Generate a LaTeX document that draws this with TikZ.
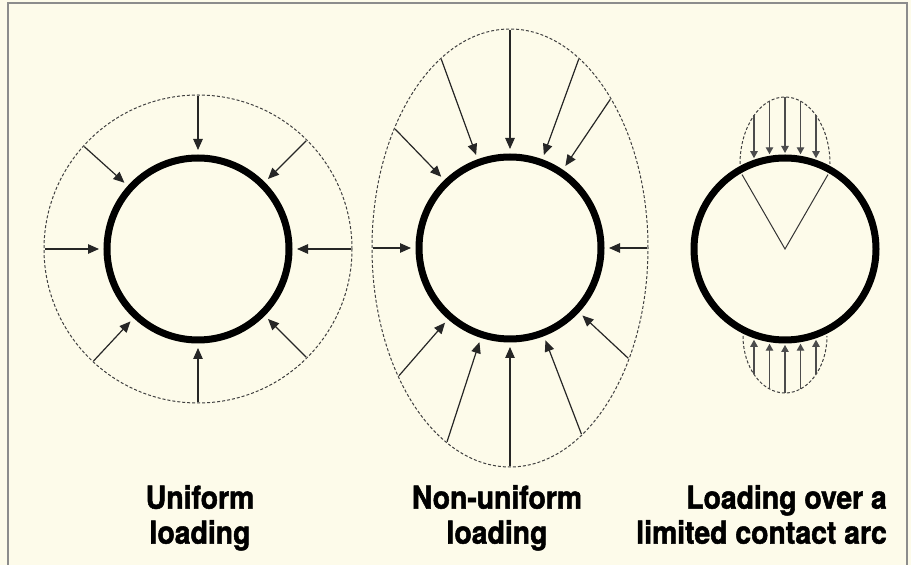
\documentclass[tikz,border=0pt]{standalone}
\usepackage{fontspec}
\newfontfamily\lblfont[FakeStretch=0.9, FakeBold=1.6]{TeX Gyre Heros}
\usetikzlibrary{arrows.meta}
\definecolor{paper}{HTML}{FDFBEA}
\definecolor{rim}{HTML}{8C8C8C}

\begin{document}
\begin{tikzpicture}[x=1pt, y=1pt, >={Triangle[length=11pt,width=9.5pt]},
    pipe/.style={line width=7pt},
    load/.style={line width=1.2pt, draw=black!85, ->},
    smallload/.style={line width=1.1pt, draw=black!70, -{Triangle[length=7pt,width=7.5pt]}},
    envelope/.style={line width=1pt, dash pattern=on 3pt off 2pt, draw=black!75},
    caption/.style={font=\lblfont\bfseries\fontsize{31.5}{35}\selectfont,
                    inner sep=0pt}]
  \fill[paper] (0,0) rectangle (911,565);
  \useasboundingbox (0,0) rectangle (911,565);
  \draw[rim, line width=2pt] (8,0) -- (8,562) -- (907,562) -- (907,0);

  % uniform loading
  \coordinate (uc) at (198,316);
  \draw[envelope] (uc) circle[radius=154];
  \foreach \a in {0,45,90,138,180,227,270,315}
    \draw[load, shift={(uc)}] (\a:153) -- (\a:99);
  \draw[pipe] (uc) circle[radius=91];

  % non-uniform loading
  \coordinate (nc) at (510,317);
  \draw[envelope] (nc) ellipse[x radius=138, y radius=219];
  \foreach \a in {0,56,70,90,110,134,180,229,252,270,291,317} {
    \pgfmathsetmacro\re{302.22/sqrt((2.19*cos(\a))^2+(1.38*sin(\a))^2)-1}
    \draw[load, shift={(nc)}] (\a:\re) -- (\a:99);
  }
  \draw[pipe] (nc) circle[radius=91];

  % limited contact arc
  \coordinate (lc) at (785,316);
  \draw[line width=1pt, draw=black!80, shift={(lc)}] (120:86) -- (0,0) -- (60:86);
  \draw[envelope] (740,401) arc[start angle=180, end angle=0, x radius=45, y radius=67];
  \draw[envelope] (743,229) arc[start angle=180, end angle=360, x radius=42, y radius=57];
  \foreach \d in {-31,-15.5,0,15.5,31} {
    \pgfmathsetmacro\yt{401+67*sqrt(1-(\d/45)^2)}
    \pgfmathsetmacro\yc{316+sqrt(9025-\d*\d)+1}
    \draw[smallload] ({785+\d},\yt) -- ({785+\d},\yc);
    \pgfmathsetmacro\yb{229-57*sqrt(1-(\d/42)^2)}
    \pgfmathsetmacro\yd{316-sqrt(9025-\d*\d)-1}
    \draw[smallload] ({785+\d},\yb) -- ({785+\d},\yd);
  }
  \draw[pipe] (lc) circle[radius=91];

  % captions
  \node[caption, align=center, anchor=north] (ucap) at (200,80) {Uniform\\loading};
  \node[caption, align=center, anchor=north] (ncap) at (497,80) {Non-uniform\\loading};
  \node[caption, align=right, anchor=north east] (lcap) at (887,80) {Loading over a\\limited contact arc};
\end{tikzpicture}
\end{document}
